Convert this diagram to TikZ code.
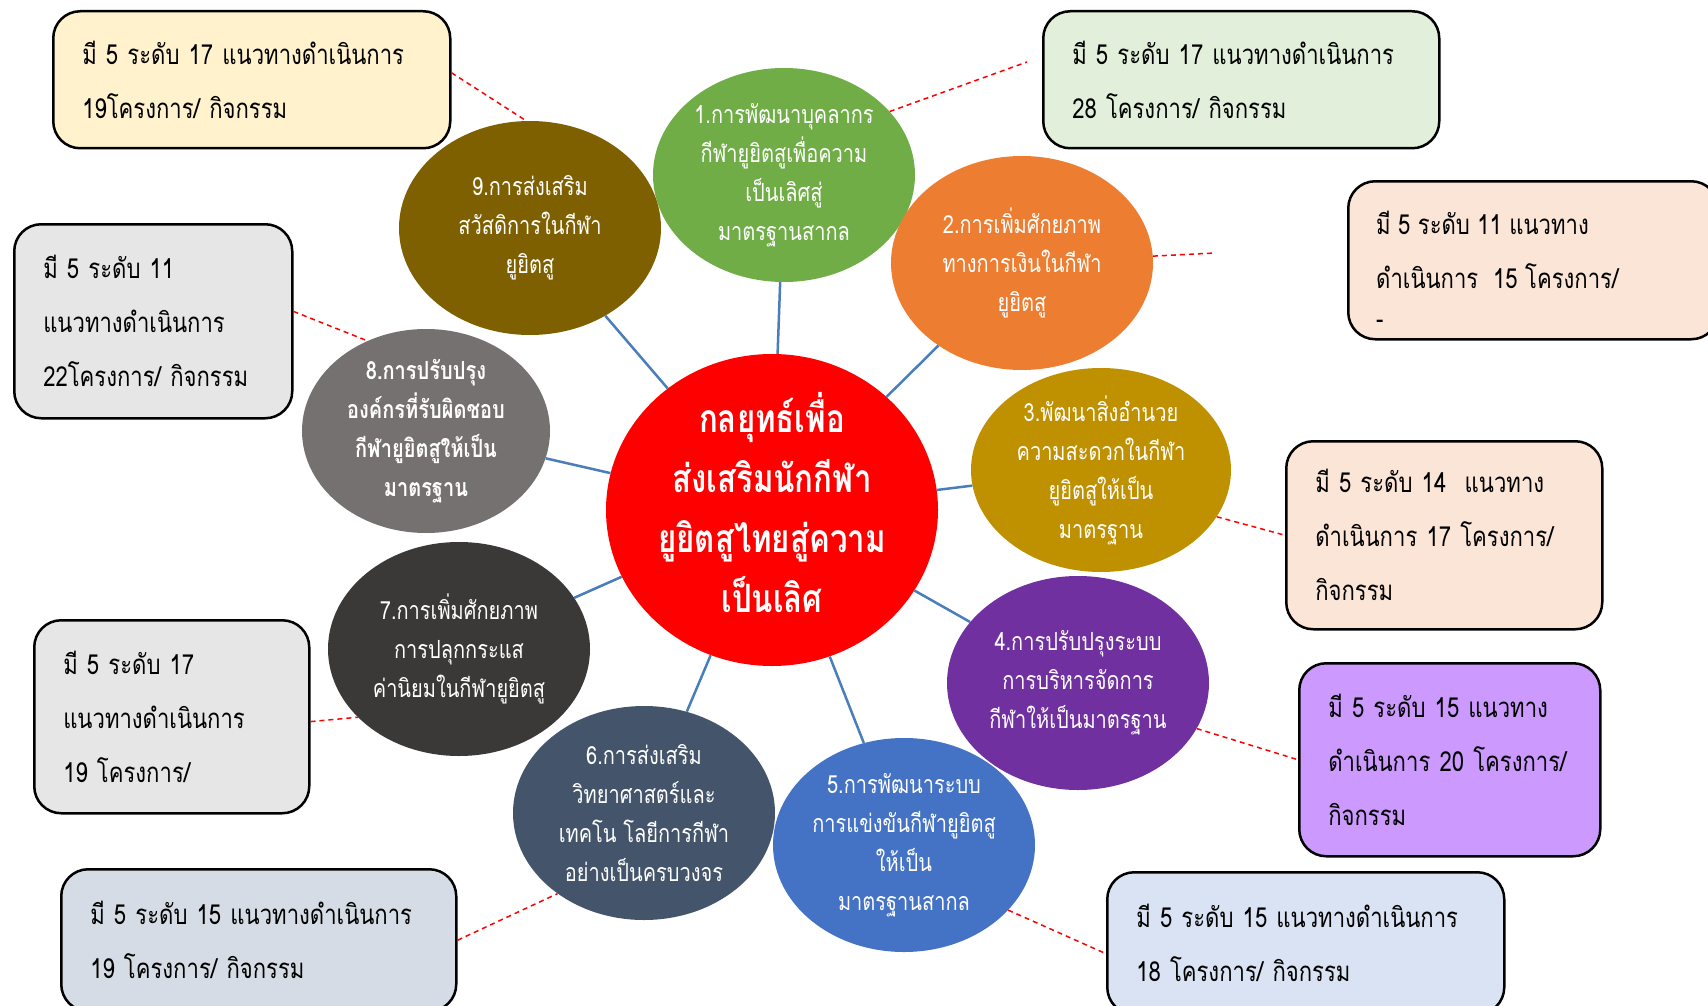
\documentclass[tikz,border=0pt]{standalone}
\usepackage{fontspec}
\setmainfont[Script=Thai,FakeStretch=0.8]{Loma}
\usepackage{tikz}
\usepackage{xcolor}
\usetikzlibrary{shapes.geometric,calc}
\definecolor{hubRed}{RGB}{255,0,0}
\definecolor{stratGreen}{RGB}{112,173,71}
\definecolor{stratOrange}{RGB}{237,125,49}
\definecolor{stratGold}{RGB}{191,144,0}
\definecolor{stratPurple}{RGB}{112,48,160}
\definecolor{stratBlue}{RGB}{68,114,196}
\definecolor{stratSlate}{RGB}{68,84,106}
\definecolor{stratDark}{RGB}{59,56,56}
\definecolor{stratGray}{RGB}{118,113,113}
\definecolor{stratOlive}{RGB}{127,96,0}
\definecolor{spokeBlue}{RGB}{74,126,187}
\definecolor{noteCream}{RGB}{255,242,204}
\definecolor{noteGreen}{RGB}{226,239,218}
\definecolor{notePeach}{RGB}{251,229,214}
\definecolor{noteGray}{RGB}{231,230,230}
\definecolor{noteViolet}{RGB}{204,153,255}
\definecolor{noteSlate}{RGB}{214,220,229}
\definecolor{noteBlue}{RGB}{218,227,243}
\tikzset{
  core/.style={ellipse, fill=hubRed, minimum width=332, minimum height=312, inner sep=-30, align=center, text=white, font=\bfseries\fontsize{39}{60}\selectfont},
  bubble/.style={ellipse, minimum width=262, minimum height=214, inner sep=-12, align=center, text=white, font=\fontsize{25}{39}\selectfont},
  infobox/.style={draw=black, line width=2.5, rounded corners=27, anchor=north west, align=left, inner xsep=29, inner ysep=0, font=\fontsize{27.6}{54}\selectfont},
  notetext/.style={anchor=north west, align=left, inner sep=0, font=\fontsize{27.6}{54}\selectfont},
  spoke/.style={draw=spokeBlue, line width=2.5},
  link/.style={draw=red, line width=1.5, dash pattern=on 5 off 4}
}

\begin{document}
\begin{tikzpicture}[x=1pt,y=-1pt]
  \useasboundingbox (0,0) rectangle (1708,1006);
  \clip (0,0) rectangle (1708,1006);

  \node[core] (hub) at (772,510) {กลยุทธ์เพื่อ\\ส่งเสริมนักกีฬา\\ยูยิตสูไทยสู่ความ\\เป็นเลิศ\rule[-15pt]{0pt}{15pt}};

  \node[bubble, fill=stratGreen] (s1) at (784,175) {1.การพัฒนาบุคลากร\\กีฬายูยิตสูเพื่อความ\\เป็นเลิศสู่\\มาตรฐานสากล};
  \node[bubble, fill=stratOrange] (s2) at (1022,263) {2.การเพิ่มศักยภาพ\\ทางการเงินในกีฬา\\ยูยิตสู};
  \node[bubble, fill=stratGold, minimum width=260, minimum height=204] (s3) at (1101,470) {3.พัฒนาสิ่งอำนวย\\ความสะดวกในกีฬา\\ยูยิตสูให้เป็น\\มาตรฐาน};
  \node[bubble, fill=stratPurple] (s4) at (1078,683) {4.การปรับปรุงระบบ\\การบริหารจัดการ\\กีฬาให้เป็นมาตรฐาน};
  \node[bubble, fill=stratBlue] (s5) at (904,845) {5.การพัฒนาระบบ\\การแข่งขันกีฬายูยิตสู\\ให้เป็น\\มาตรฐานสากล};
  \node[bubble, fill=stratSlate] (s6) at (644,813) {6.การส่งเสริม\\วิทยาศาสตร์และ\\เทคโน โลยีการกีฬา\\อย่างเป็นครบวงจร};
  \node[bubble, fill=stratDark] (s7) at (459,649) {7.การเพิ่มศักยภาพ\\การปลุกกระแส\\ค่านิยมในกีฬายูยิตสู};
  \node[bubble, fill=stratGray, minimum width=248, minimum height=204, font=\bfseries\fontsize{25}{39}\selectfont] (s8) at (426,431) {8.การปรับปรุง\\องค์กรที่รับผิดชอบ\\กีฬายูยิตสูให้เป็น\\มาตรฐาน};
  \node[bubble, fill=stratOlive] (s9) at (530,228) {9.การส่งเสริม\\สวัสดิการในกีฬา\\ยูยิตสู};

  \node[infobox, fill=noteCream, text width=339, minimum height=137] (b9) at (52,10) {มี 5 ระดับ 17 แนวทางดำเนินการ\\19โครงการ/ กิจกรรม};
  \node[infobox, fill=noteGreen, text width=338, minimum height=137] (b1) at (1042,10) {มี 5 ระดับ 17 แนวทางดำเนินการ\\28 โครงการ/ กิจกรรม};
  \node[infobox, fill=notePeach, text width=312, minimum height=158] (b2) at (1347,180) {};
  \node[notetext] (b2txt) at ($(b2.north west)+(29,31)$) {มี 5 ระดับ 11 แนวทาง\\ดำเนินการ\ \ 15 โครงการ/\\[-14pt]-};
  \node[infobox, fill=noteGray, text width=220, minimum height=194] (b8) at (13,223) {มี 5 ระดับ 11\\แนวทางดำเนินการ\\22โครงการ/ กิจกรรม};
  \node[infobox, fill=notePeach, text width=258, minimum height=188] (b3) at (1285,440) {มี 5 ระดับ 14\ \ แนวทาง\\ดำเนินการ 17 โครงการ/\\กิจกรรม};
  \node[infobox, fill=noteGray, text width=217, minimum height=193] (b7) at (33,619) {มี 5 ระดับ 17\\แนวทางดำเนินการ\\19 โครงการ/};
  \node[infobox, fill=noteViolet, text width=243, minimum height=193] (b4) at (1298,662) {มี 5 ระดับ 15 แนวทาง\\ดำเนินการ 20 โครงการ/\\กิจกรรม};
  \node[infobox, fill=noteSlate, text width=337, minimum height=142] (b6) at (60,868) {มี 5 ระดับ 15 แนวทางดำเนินการ\\19 โครงการ/ กิจกรรม};
  \node[infobox, fill=noteBlue, text width=339, minimum height=142] (b5) at (1106,871) {มี 5 ระดับ 15 แนวทางดำเนินการ\\18 โครงการ/ กิจกรรม};

  \coordinate (t1) at (1027,62);
  \coordinate (t2) at (1215,253);

  \foreach \s in {s1,s2,s3,s4,s5,s6,s7,s8,s9}
    \draw[spoke] (hub) -- (\s);

  \draw[link] (b9.2) -- (s9.92);
  \draw[link] (s1.31) -- (t1);
  \draw[link] (s2.3) -- (t2);
  \draw[link] (b8.4) -- (s8.123);
  \draw[link] (s3.-22) -- (b3.west);
  \draw[link] (b7.-2) -- (s7.214);
  \draw[link] (s4.-21) -- (b4.west);
  \draw[link] (b6.east) -- (s6.223);
  \draw[link] (s5.-32) -- (b5.183);
\end{tikzpicture}
\end{document}
